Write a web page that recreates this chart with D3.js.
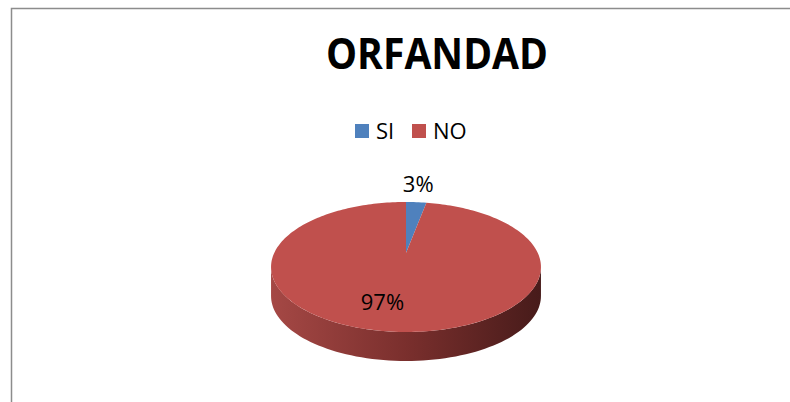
<!DOCTYPE html>
<html lang="es">
  <head>
    <meta charset="UTF-8" />
    <title>ORFANDAD</title>
    <script src="https://cdn.jsdelivr.net/npm/d3@7"></script>
    <style>
      html,
      body {
        margin: 0;
        padding: 0;
        background: #fff;
      }
      svg {
        display: block;
        font-family: 'Open Sans', 'Liberation Sans', sans-serif;
      }
    </style>
  </head>
  <body>
    <svg width="790" height="402"></svg>
    <script>
      const title = 'ORFANDAD';
      const categories = ['SI', 'NO'];
      const values = [3, 97];
      const labels = ['3%', '97%'];
      const colors = ['#4f81bd', '#c0504d'];

      const svg = d3.select('svg');

      // chart frame (runs off the right / bottom edge)
      svg
        .append('rect')
        .attr('x', 11.5)
        .attr('y', 8.5)
        .attr('width', 820)
        .attr('height', 430)
        .attr('fill', 'none')
        .attr('stroke', '#8c8c8c')
        .attr('stroke-width', 1.5);

      svg
        .append('text')
        .attr('x', 437)
        .attr('y', 69)
        .attr('text-anchor', 'middle')
        .attr('font-size', 43)
        .attr('font-weight', 'bold')
        .attr('textLength', 222)
        .attr('lengthAdjust', 'spacingAndGlyphs')
        .attr('fill', '#000')
        .text(title);

      // legend
      const color = d3.scaleOrdinal().domain(categories).range(colors);
      const legendX = d3.scaleOrdinal().domain(categories).range([355, 412]);

      const legend = svg
        .selectAll('g.legend')
        .data(categories)
        .enter()
        .append('g')
        .attr('class', 'legend')
        .attr('transform', d => `translate(${legendX(d)},124)`);

      legend
        .append('rect')
        .attr('width', 14)
        .attr('height', 14)
        .attr('fill', d => color(d));

      legend
        .append('text')
        .attr('x', 21)
        .attr('y', 14.5)
        .attr('font-size', 22)
        .attr('fill', '#000')
        .text(d => d);

      // perspective projection of a tilted disc
      const cx = 406,
        cy = 253,
        A = 131.8,
        B = 62,
        k = 0.215,
        depth = 29;

      function project(r, a, dy) {
        const u = r * Math.sin(a);
        const v = -r * Math.cos(a);
        const w = 1 - k * v;
        return [cx + (A * u) / w, cy + (B * v) / w + (dy || 0)];
      }

      const line = d3.line();
      const pie = d3
        .pie()
        .sort(null)
        .value(d => d.value);
      const arcs = pie(categories.map((c, i) => ({ cat: c, value: values[i], label: labels[i] })));

      // side wall: front half between the horizontal extremes (v = k)
      const aLeft = Math.PI + Math.acos(k);
      const aRight = Math.PI - Math.acos(k);
      const steps = 80;
      const topEdge = d3.range(steps + 1).map(i => project(1, aRight + ((aLeft - aRight) * i) / steps));
      const botEdge = d3
        .range(steps + 1)
        .map(i => project(1, aLeft - ((aLeft - aRight) * i) / steps, depth));

      const defs = svg.append('defs');
      const grad = defs
        .append('linearGradient')
        .attr('id', 'side')
        .attr('gradientUnits', 'userSpaceOnUse')
        .attr('x1', topEdge[steps][0])
        .attr('x2', topEdge[0][0])
        .attr('y1', 0)
        .attr('y2', 0);
      grad.append('stop').attr('offset', 0).attr('stop-color', '#a54845');
      grad.append('stop').attr('offset', 0.5).attr('stop-color', '#7a2f2d');
      grad.append('stop').attr('offset', 1).attr('stop-color', '#471b1a');

      svg
        .append('path')
        .attr('d', line(topEdge.concat(botEdge)) + 'Z')
        .attr('fill', 'url(#side)');

      // top faces
      svg
        .selectAll('path.slice')
        .data(arcs)
        .enter()
        .append('path')
        .attr('class', 'slice')
        .attr('d', d => {
          const n = Math.max(4, Math.ceil((d.endAngle - d.startAngle) * 40));
          const pts = [project(0, 0)].concat(
            d3.range(n + 1).map(i => project(1, d.startAngle + ((d.endAngle - d.startAngle) * i) / n))
          );
          return line(pts) + 'Z';
        })
        .attr('fill', d => color(d.data.cat));

      // data labels
      svg
        .selectAll('text.label')
        .data(arcs)
        .enter()
        .append('text')
        .attr('class', 'label')
        .attr('text-anchor', 'middle')
        .attr('font-size', 22)
        .attr('fill', '#000')
        .attr('x', d => {
          const mid = (d.startAngle + d.endAngle) / 2;
          return d.data.value < 10 ? project(1.25, mid)[0] : project(0.6, mid)[0] - 15;
        })
        .attr('y', d => {
          const mid = (d.startAngle + d.endAngle) / 2;
          return d.data.value < 10 ? project(1.25, mid)[1] : project(0.6, mid)[1] + 15;
        })
        .text(d => d.data.label);
    </script>
  </body>
</html>
